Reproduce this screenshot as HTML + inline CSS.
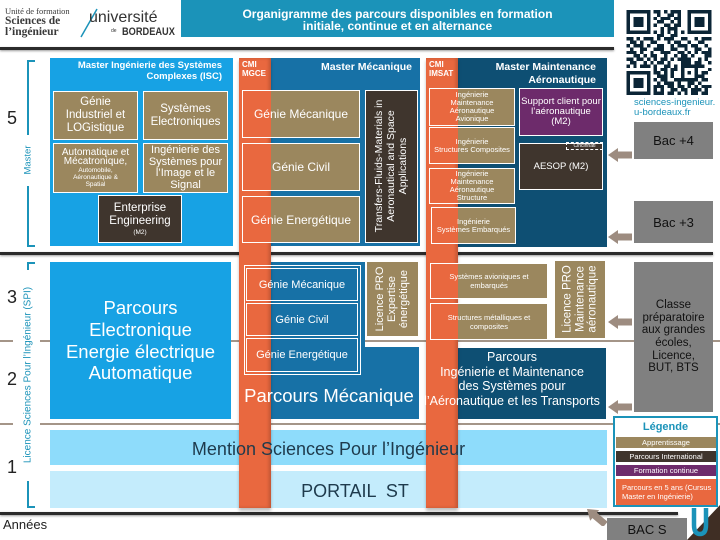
<!DOCTYPE html>
<html><head><meta charset="utf-8"><style>
html,body{margin:0;padding:0;background:#fff}
#p{position:relative;width:720px;height:540px;overflow:hidden;background:#fff;font-family:"Liberation Sans","DejaVu Sans",sans-serif}
.a{position:absolute;box-sizing:border-box}
.c{display:flex;flex-direction:column;align-items:center;justify-content:center;text-align:center;color:#fff}
.rot{transform:translate(-50%,-50%) rotate(-90deg);text-align:center;white-space:nowrap}
.ol{background:#9b875e;border:1.5px solid #fff}
.br{background:#3f352d;border:1.5px solid #fff}
.st{background:#e9683f;box-shadow:inset -2px 0 3px rgba(0,0,0,.18),0 3px 3px rgba(0,0,0,.25)}
.sep{background:#a49588;height:2px}
.dl{background:#2b2b2b;height:2.5px;box-shadow:0 1px 2px rgba(0,0,0,.4)}
.gb{background:#808080;color:#111}
.tl{background:#1b93b9}
</style></head><body><div id="p">

<!-- header -->
<div class="a" style="left:5px;top:6px;font-family:'Liberation Serif',serif;color:#3a3a3a">
<div style="font-size:8.5px;line-height:10px">Unité de formation</div>
<div style="font-size:11.5px;font-weight:bold;line-height:11px">Sciences de</div>
<div style="font-size:11.5px;font-weight:bold;line-height:11px">l’ingénieur</div>
</div>
<svg class="a" style="left:78px;top:6px" width="22" height="34"><line x1="3" y1="31" x2="19" y2="3" stroke="#1b93b9" stroke-width="1.5"/></svg>
<div class="a" style="left:89px;top:9px;font-size:16px;line-height:18px;color:#333">université</div>
<div class="a" style="left:111px;top:28px;font-size:5px;color:#333">de</div>
<div class="a" style="left:122px;top:26px;font-size:11px;font-weight:bold;line-height:12px;color:#333;transform:scaleX(.84);transform-origin:left">BORDEAUX</div>

<div class="a tl c" style="left:181px;top:0;width:433px;height:37px;font-weight:bold;font-size:12px;line-height:12px;padding-top:2px">
<div>Organigramme des parcours disponibles en formation</div>
<div>initiale, continue et en alternance</div>
</div>
<div class="a dl" style="left:0;top:47px;width:614px"></div>

<!-- QR -->
<svg class="a" style="left:626px;top:10px" width="86" height="85" viewBox="0 0 25 25" shape-rendering="crispEdges">
<g fill="#0b2536">
<rect x="0" y="0" width="7" height="7"/><rect x="18" y="0" width="7" height="7"/><rect x="0" y="18" width="7" height="7"/>
<path d="M8 0h2v1h-2zM11 0h1v1h-1zM13 0h3v1h-3zM9 1h1v1h-1zM12 1h2v1h-2zM15 1h1v1h-1zM8 2h1v1h-1zM10 2h3v1h-3zM14 2h2v1h-2zM9 3h2v1h-2zM13 3h1v1h-1zM15 3h1v1h-1zM8 4h1v1h-1zM11 4h2v1h-2zM14 4h2v1h-2zM10 5h1v1h-1zM12 5h3v1h-3zM8 6h1v1h-1zM10 6h1v1h-1zM12 6h1v1h-1zM14 6h1v1h-1zM16 6h1v1h-1zM9 7h2v1h-2zM13 7h2v1h-2zM0 8h2v1h-2zM3 8h1v1h-1zM5 8h3v1h-3zM9 8h1v1h-1zM11 8h3v1h-3zM16 8h2v1h-2zM20 8h1v1h-1zM22 8h3v1h-3zM1 9h2v1h-2zM4 9h1v1h-1zM7 9h2v1h-2zM12 9h1v1h-1zM14 9h2v1h-2zM18 9h1v1h-1zM21 9h2v1h-2zM0 10h1v1h-1zM2 10h3v1h-3zM6 10h1v1h-1zM9 10h2v1h-2zM13 10h1v1h-1zM15 10h3v1h-3zM19 10h2v1h-2zM23 10h1v1h-1zM1 11h1v1h-1zM4 11h2v1h-2zM8 11h3v1h-3zM13 11h2v1h-2zM17 11h1v1h-1zM20 11h2v1h-2zM24 11h1v1h-1zM0 12h3v1h-3zM4 12h1v1h-1zM7 12h1v1h-1zM10 12h3v1h-3zM15 12h2v1h-2zM18 12h1v1h-1zM20 12h1v1h-1zM22 12h3v1h-3zM2 13h2v1h-2zM5 13h1v1h-1zM7 13h2v1h-2zM11 13h1v1h-1zM14 13h1v1h-1zM16 13h2v1h-2zM19 13h1v1h-1zM23 13h2v1h-2zM0 14h2v1h-2zM3 14h2v1h-2zM6 14h1v1h-1zM8 14h1v1h-1zM10 14h2v1h-2zM13 14h1v1h-1zM15 14h4v1h-4zM21 14h1v1h-1zM23 14h1v1h-1zM1 15h2v1h-2zM5 15h1v1h-1zM7 15h1v1h-1zM9 15h2v1h-2zM12 15h1v1h-1zM16 15h3v1h-3zM20 15h2v1h-2zM24 15h1v1h-1zM0 16h1v1h-1zM2 16h1v1h-1zM4 16h3v1h-3zM8 16h1v1h-1zM11 16h2v1h-2zM14 16h1v1h-1zM21 16h2v1h-2zM8 17h1v1h-1zM10 17h2v1h-2zM13 17h2v1h-2zM24 17h1v1h-1zM8 18h2v1h-2zM11 18h1v1h-1zM13 18h1v1h-1zM22 18h2v1h-2zM9 19h3v1h-3zM13 19h1v1h-1zM21 19h2v1h-2zM8 20h1v1h-1zM10 20h2v1h-2zM14 20h2v1h-2zM22 20h2v1h-2zM9 21h1v1h-1zM11 21h3v1h-3zM15 21h1v1h-1zM18 21h2v1h-2zM21 21h1v1h-1zM8 22h3v1h-3zM12 22h2v1h-2zM15 22h2v1h-2zM18 22h1v1h-1zM20 22h1v1h-1zM22 22h3v1h-3zM8 23h1v1h-1zM10 23h1v1h-1zM13 23h2v1h-2zM16 23h2v1h-2zM19 23h3v1h-3zM23 23h1v1h-1zM8 24h3v1h-3zM12 24h2v1h-2zM15 24h1v1h-1zM17 24h1v1h-1zM19 24h2v1h-2zM22 24h2v1h-2z"/>
<rect x="16" y="16" width="5" height="5"/>
</g>
<g fill="#fff"><rect x="1" y="1" width="5" height="5"/><rect x="19" y="1" width="5" height="5"/><rect x="1" y="19" width="5" height="5"/><rect x="17" y="17" width="3" height="3"/></g>
<g fill="#0b2536"><rect x="2" y="2" width="3" height="3"/><rect x="20" y="2" width="3" height="3"/><rect x="2" y="20" width="3" height="3"/><rect x="18" y="18" width="1" height="1"/></g>
</svg>
<div class="a" style="left:634px;top:98px;font-size:9.5px;line-height:10px;color:#1b93b9">sciences-ingenieur.<br>u-bordeaux.fr</div>

<!-- separators -->
<div class="a sep" style="left:0;top:340px;width:13px"></div>
<div class="a sep" style="left:40px;top:340px;width:680px"></div>
<div class="a sep" style="left:0;top:423px;width:13px"></div>
<div class="a sep" style="left:40px;top:423px;width:680px"></div>

<!-- left axis -->
<div class="a" style="left:7px;top:108px;font-size:18px;color:#222">5</div>
<div class="a" style="left:7px;top:287px;font-size:18px;color:#222">3</div>
<div class="a" style="left:7px;top:369px;font-size:18px;color:#222">2</div>
<div class="a" style="left:7px;top:457px;font-size:18px;color:#222">1</div>
<div class="a tl" style="left:27px;top:60px;width:2px;height:75px"></div>
<div class="a tl" style="left:27px;top:60px;width:8px;height:2px"></div>
<div class="a tl" style="left:27px;top:186px;width:2px;height:61px"></div>
<div class="a tl" style="left:27px;top:245px;width:8px;height:2px"></div>
<div class="a rot" style="left:28px;top:160px;width:50px;font-size:9.5px;color:#1b93b9">Master</div>
<div class="a tl" style="left:27px;top:262px;width:2px;height:8px"></div>
<div class="a tl" style="left:27px;top:262px;width:8px;height:2px"></div>
<div class="a tl" style="left:27px;top:481px;width:2px;height:27px"></div>
<div class="a tl" style="left:27px;top:506px;width:8px;height:2px"></div>
<div class="a rot" style="left:28px;top:375px;width:206px;font-size:10px;color:#1b93b9">Licence Sciences Pour l’Ingénieur (SPI)</div>
<div class="a" style="left:3px;top:517px;font-size:13px;color:#222">Années</div>

<!-- Master ISC -->
<div class="a" style="left:50px;top:58px;width:183px;height:188px;background:#17a2e4"></div>
<div class="a" style="left:50px;top:60px;width:172px;text-align:right;color:#fff;font-weight:bold;font-size:9.5px;line-height:11px">Master Ingénierie des Systèmes<br>Complexes (ISC)</div>
<div class="a ol c" style="left:53px;top:91px;width:85px;height:49px;font-size:11.5px;line-height:13px">Génie<br>Industriel et<br>LOGistique</div>
<div class="a ol c" style="left:143px;top:91px;width:85px;height:49px;font-size:11.5px;line-height:13px">Systèmes<br>Electroniques</div>
<div class="a ol c" style="left:53px;top:143px;width:85px;height:50px;font-size:10px;line-height:9px"><div>Automatique et<br>Mécatronique,</div><div style="font-size:6.5px;line-height:7px;margin-top:1px">Automobile,<br>Aéronautique &amp;<br>Spatial</div></div>
<div class="a ol c" style="left:143px;top:143px;width:85px;height:50px;font-size:11px;line-height:11.5px">Ingénierie des<br>Systèmes pour<br>l’Image et le<br>Signal</div>
<div class="a br c" style="left:98px;top:195px;width:84px;height:48px;font-size:11.5px;line-height:13px"><div>Enterprise<br>Engineering</div><div style="font-size:6.5px;line-height:9px">(M2)</div></div>

<!-- Master Mecanique -->
<div class="a" style="left:271px;top:58px;width:149px;height:188px;background:#1771a6"></div>
<!-- Master Aero -->
<div class="a" style="left:458px;top:58px;width:149px;height:189px;background:#0e4f73"></div>

<!-- Licence boxes -->
<div class="a c" style="left:50px;top:262px;width:181px;height:157px;background:#17a2e4;font-size:18.5px;line-height:21.7px">Parcours<br>Electronique<br>Energie électrique<br>Automatique</div>
<div class="a" style="left:271px;top:262px;width:94px;height:86px;background:#1771a6"></div>
<div class="a" style="left:271px;top:347px;width:148px;height:72px;background:#1771a6"></div>
<div class="a" style="left:367px;top:262px;width:51px;height:74px;background:#9b875e"></div>
<div class="a" style="left:458px;top:348px;width:148px;height:71px;background:#0e4f73"></div>
<div class="a" style="left:555px;top:261px;width:50px;height:77px;background:#9b875e"></div>

<!-- bands -->
<div class="a" style="left:50px;top:430px;width:557px;height:35px;background:#8edcfb"></div>
<div class="a" style="left:50px;top:471px;width:557px;height:37px;background:#c4ecfc"></div>

<div class="a dl" style="left:0;top:252px;width:713px"></div>
<div class="a dl" style="left:0;top:512px;width:678px"></div>

<!-- strips -->
<div class="a st" style="left:239px;top:58px;width:32px;height:450px"></div>
<div class="a st" style="left:426px;top:58px;width:32px;height:450px"></div>

<!-- master meca content -->
<div class="a" style="left:242px;top:61px;color:#fff;font-weight:bold;font-size:8px;line-height:8.5px">CMI<br>MGCE</div>
<div class="a" style="left:271px;top:61px;width:141px;text-align:right;color:#fff;font-weight:bold;font-size:10.5px;line-height:12px">Master Mécanique</div>
<div class="a c" style="left:242px;top:90px;width:118px;height:48px;border:1.5px solid #fff;background:linear-gradient(to right,#e9683f 0,#e9683f 28px,#9b875e 28px);font-size:12px">Génie Mécanique</div>
<div class="a c" style="left:242px;top:143px;width:118px;height:48px;border:1.5px solid #fff;background:linear-gradient(to right,#e9683f 0,#e9683f 28px,#9b875e 28px);font-size:12px">Génie Civil</div>
<div class="a c" style="left:242px;top:196px;width:118px;height:47px;border:1.5px solid #fff;background:linear-gradient(to right,#e9683f 0,#e9683f 28px,#9b875e 28px);font-size:12px">Génie Energétique</div>
<div class="a br" style="left:365px;top:90px;width:53px;height:153px"></div>
<div class="a rot" style="left:391px;top:166px;width:150px;color:#fff;font-size:10.5px;line-height:12px">Transfers-Fluids-Materials in<br>Aeronautical and Space<br>Applications</div>

<!-- master aero content -->
<div class="a" style="left:429px;top:61px;color:#fff;font-weight:bold;font-size:8px;line-height:8.5px">CMI<br>IMSAT</div>
<div class="a" style="left:458px;top:61px;width:138px;text-align:right;color:#fff;font-weight:bold;font-size:10.5px;line-height:13px">Master Maintenance<br>Aéronautique</div>
<div class="a c" style="left:429px;top:88px;width:86px;height:38px;border:1.5px solid #fff;background:linear-gradient(to right,#e9683f 0,#e9683f 28px,#9b875e 28px);font-size:7.5px;line-height:8px">Ingénierie<br>Maintenance<br>Aéronautique<br>Avionique</div>
<div class="a c" style="left:429px;top:127px;width:86px;height:37px;border:1.5px solid #fff;background:linear-gradient(to right,#e9683f 0,#e9683f 28px,#9b875e 28px);font-size:7.5px;line-height:8px">Ingénierie<br>Structures Composites</div>
<div class="a c" style="left:429px;top:168px;width:86px;height:36px;border:1.5px solid #fff;background:linear-gradient(to right,#e9683f 0,#e9683f 28px,#9b875e 28px);font-size:7.5px;line-height:8px">Ingénierie<br>Maintenance<br>Aéronautique<br>Structure</div>
<div class="a c" style="left:431px;top:207px;width:85px;height:37px;border:1.5px solid #fff;background:linear-gradient(to right,#e9683f 0,#e9683f 26px,#9b875e 26px);font-size:7.5px;line-height:8px">Ingénierie<br>Systèmes Embarqués</div>
<div class="a c" style="left:519px;top:88px;width:84px;height:48px;border:1.5px solid #fff;background:#6d2b6b;font-size:9.5px;line-height:10px">Support client pour<br>l’aéronautique<br>(M2)</div>
<div class="a br c" style="left:519px;top:143px;width:84px;height:47px;font-size:9.5px">AESOP (M2)</div>
<div class="a" style="left:566px;top:142px;width:37px;height:8px;border:1px dashed #fff;color:#fff;font-size:5px;line-height:6px;text-align:center;overflow:hidden;white-space:nowrap">Cincinnati</div>

<!-- licence meca content -->
<div class="a" style="left:244px;top:265px;width:117px;height:110px;border:1px solid #fff"></div>
<div class="a c" style="left:246px;top:268px;width:112px;height:33px;border:1px solid #fff;font-size:11px">Génie Mécanique</div>
<div class="a c" style="left:246px;top:303px;width:112px;height:33px;border:1px solid #fff;font-size:11px">Génie Civil</div>
<div class="a c" style="left:246px;top:338px;width:112px;height:34px;border:1px solid #fff;font-size:11px">Génie Energétique</div>
<div class="a" style="left:239px;top:385px;width:180px;text-align:center;color:#fff;font-size:18.5px;line-height:22px">Parcours Mécanique</div>
<div class="a rot" style="left:392px;top:299px;width:72px;color:#fff;font-size:11px;line-height:12px">Licence PRO<br>Expertise<br>énergétique</div>

<!-- licence aero content -->
<div class="a c" style="left:430px;top:263px;width:118px;height:36px;border:1.5px solid #fff;background:linear-gradient(to right,#e9683f 0,#e9683f 27px,#9b875e 27px);font-size:7.5px;line-height:9px">Systèmes avioniques et<br>embarqués</div>
<div class="a c" style="left:430px;top:303px;width:118px;height:37px;border:1.5px solid #fff;background:linear-gradient(to right,#e9683f 0,#e9683f 27px,#9b875e 27px);font-size:7.5px;line-height:9px">Structures métalliques et<br>composites</div>
<div class="a rot" style="left:580px;top:299px;width:75px;color:#fff;font-size:11.5px;line-height:12.5px">Licence PRO<br>Maintenance<br>aéronautique</div>
<div class="a" style="left:412px;top:350px;width:200px;text-align:center;color:#fff;font-size:12.5px;line-height:14.7px">Parcours<br>Ingénierie et Maintenance<br>des Systèmes pour<br>l’Aéronautique et les Transports</div>

<!-- band text -->
<div class="a" style="left:50px;top:438px;width:557px;text-align:center;color:#1e3a4c;font-size:18px;line-height:22px">Mention Sciences Pour l’Ingénieur</div>
<div class="a" style="left:299px;top:480px;width:112px;text-align:center;color:#1e3a4c;font-size:18px;line-height:22px;white-space:pre">PORTAIL  ST</div>

<!-- right column -->
<div class="a gb c" style="left:634px;top:122px;width:79px;height:37px;font-size:13px;color:#111">Bac +4</div>
<div class="a gb c" style="left:634px;top:201px;width:79px;height:42px;font-size:13px;color:#111">Bac +3</div>
<div class="a gb c" style="left:634px;top:262px;width:79px;height:150px;font-size:11.5px;line-height:12.6px;color:#111">Classe<br>préparatoire<br>aux grandes<br>écoles,<br>Licence,<br>BUT, BTS</div>
<svg class="a" style="left:608px;top:148px" width="24" height="14"><polygon points="0,7 10,0 10,3.5 24,3.5 24,10.5 10,10.5 10,14" fill="#9d8c80"/></svg>
<svg class="a" style="left:608px;top:230px" width="24" height="14"><polygon points="0,7 10,0 10,3.5 24,3.5 24,10.5 10,10.5 10,14" fill="#9d8c80"/></svg>
<svg class="a" style="left:608px;top:315px" width="24" height="14"><polygon points="0,7 10,0 10,3.5 24,3.5 24,10.5 10,10.5 10,14" fill="#9d8c80"/></svg>
<svg class="a" style="left:608px;top:400px" width="24" height="14"><polygon points="0,7 10,0 10,3.5 24,3.5 24,10.5 10,10.5 10,14" fill="#9d8c80"/></svg>

<!-- legend -->
<div class="a" style="left:613px;top:416px;width:105px;height:91px;border:2px solid #1b93b9;background:#fff"></div>
<div class="a" style="left:615px;top:420px;width:101px;text-align:center;color:#1b93b9;font-weight:bold;font-size:11px;line-height:14px">Légende</div>
<div class="a c" style="left:616px;top:437px;width:100px;height:11px;background:#9b875e;font-size:7.5px">Apprentissage</div>
<div class="a c" style="left:616px;top:451px;width:100px;height:11px;background:#3f352d;font-size:7.5px">Parcours International</div>
<div class="a c" style="left:616px;top:465px;width:100px;height:11px;background:#6d2b6b;font-size:7.5px">Formation continue</div>
<div class="a" style="left:616px;top:479px;width:100px;height:26px;background:#e9683f;color:#fff;font-size:7.5px;line-height:9px;padding:4px 0 0 6px">Parcours en 5 ans (Cursus<br>Master en Ingénierie)</div>

<!-- BAC S -->
<div class="a gb c" style="left:607px;top:518px;width:80px;height:22px;font-size:13px;color:#111">BAC S</div>
<svg class="a" style="left:584px;top:500px" width="26" height="26"><polygon points="0,7 10,0 10,3.5 24,3.5 24,10.5 10,10.5 10,14" fill="#9d8c80" transform="translate(3,2) rotate(40 0 7)"/></svg>
<svg class="a" style="left:687px;top:505px" width="33" height="35"><polygon points="0,35 33,0 33,35" fill="#3f2e24"/><path d="M7 3 V20 Q7 29 13 29 Q19 29 19 20 V3" fill="none" stroke="#1b93b9" stroke-width="4.5"/></svg>

</div></body></html>
